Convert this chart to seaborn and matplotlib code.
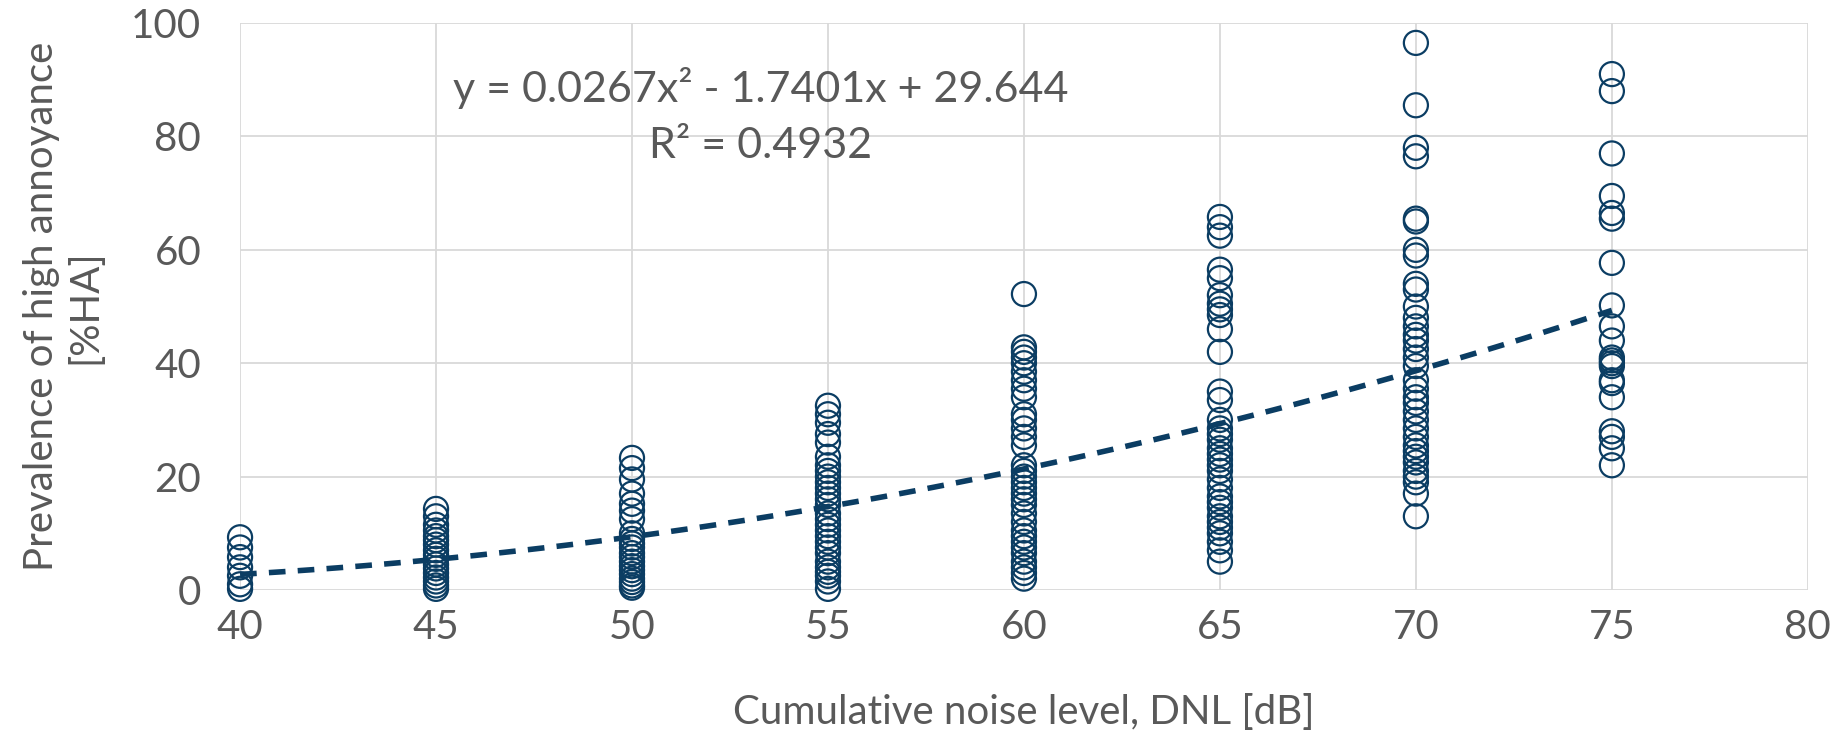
import numpy as np
import pandas as pd
import matplotlib
matplotlib.use("Agg")
import matplotlib.pyplot as plt
import seaborn as sns

# Data
ha_40 = [9.3, 7.5, 5.8, 4.0, 2.5, 1.0, 0.2]
ha_45 = [14.3, 13.0, 11.5, 10.5, 9.5, 8.8, 8.0, 7.0, 6.2, 5.5, 4.5, 3.8, 3.0, 2.2, 1.5, 0.8, 0.2]
ha_50 = [23.3, 21.5, 19.5, 17.0, 15.2, 14.0, 12.5, 10.0, 9.0, 8.2, 7.5, 6.5, 5.8, 5.0, 4.2,
         3.5, 2.8, 2.0, 1.4, 0.8, 0.4]
ha_55 = [32.5, 31.0, 29.5, 27.5, 26.0, 23.5, 22.0, 21.0, 20.0, 19.0, 18.0, 17.0, 16.0, 15.0,
         13.5, 12.5, 11.5, 10.5, 9.5, 8.5, 7.5, 6.5, 5.0, 4.0, 3.2, 2.5, 1.5, 0.2]
ha_60 = [52.2, 42.8, 42.0, 41.0, 40.0, 38.5, 37.0, 35.5, 34.0, 31.0, 30.0, 28.5, 27.0, 25.5,
         22.0, 21.0, 20.0, 19.0, 18.0, 17.0, 16.0, 15.0, 13.5, 12.0, 10.5, 9.5, 8.5, 7.5,
         6.5, 5.0, 4.0, 3.0, 2.0]
ha_65 = [65.8, 64.0, 62.5, 56.5, 55.0, 52.0, 50.5, 49.5, 48.5, 46.0, 42.0, 35.0, 33.5, 30.0,
         28.5, 27.5, 26.5, 25.0, 24.0, 23.0, 22.0, 21.0, 19.5, 18.0, 16.5, 15.5, 14.5, 13.0,
         12.0, 11.0, 10.0, 8.5, 7.0, 5.0]
ha_70 = [96.5, 85.5, 78.0, 76.5, 65.5, 65.0, 60.0, 59.0, 54.0, 53.0, 50.0, 48.0, 46.5, 45.0,
         44.0, 42.5, 41.0, 39.5, 37.0, 35.5, 34.0, 33.0, 31.5, 30.0, 28.5, 27.0, 25.5, 24.5,
         23.5, 22.5, 21.0, 20.0, 19.0, 17.0, 13.0]
ha_75 = [91.0, 88.0, 77.0, 69.5, 66.5, 65.5, 57.7, 50.2, 46.5, 44.0, 41.0, 40.5, 40.0, 39.5,
         37.0, 36.5, 34.0, 28.0, 27.0, 25.0, 22.0]
dnl_levels = [40, 45, 50, 55, 60, 65, 70, 75]
trend_coef = [0.0267, -1.7401, 29.644]
trend_range = [40, 75]
x_ticks = [40, 45, 50, 55, 60, 65, 70, 75, 80]
y_ticks = [0, 20, 40, 60, 80, 100]

cols = [ha_40, ha_45, ha_50, ha_55, ha_60, ha_65, ha_70, ha_75]
df = pd.DataFrame({
    "DNL": np.concatenate([[lv] * len(c) for lv, c in zip(dnl_levels, cols)]),
    "HA": np.concatenate(cols),
})
xs = np.linspace(trend_range[0], trend_range[1], 100)
trend = pd.DataFrame({"DNL": xs, "HA": np.polyval(trend_coef, xs)})

sns.set_theme(style="whitegrid")
plt.rcParams['font.family'] = ['Lato', 'DejaVu Sans']
navy = "#0b3d63"
grey = "#595959"
fs = 29

fig = plt.figure(figsize=(18.38, 7.44), dpi=100)
ax = fig.add_axes([0.1306, 0.207, 0.853, 0.762])

sns.lineplot(data=trend, x="DNL", y="HA", ax=ax, color=navy, lw=4, linestyle=(0, (3, 2.2)), zorder=3)
sns.scatterplot(data=df, x="DNL", y="HA", ax=ax, marker="o", s=300,
                facecolors="none", edgecolor=navy, linewidth=1.6, zorder=4, clip_on=False)

ax.set_xlim(40, 80)
ax.set_ylim(0, 100)
ax.set_xticks(x_ticks)
ax.set_yticks(y_ticks)
ax.tick_params(axis="both", labelsize=fs, colors=grey, length=0)
ax.tick_params(axis="x", pad=14)
ax.tick_params(axis="y", pad=28)
ax.grid(True, color="#d9d9d9", linewidth=1.3)
for s in ax.spines.values():
    s.set_visible(False)
ax.set_facecolor("white")

ax.set_xlabel("Cumulative noise level, DNL [dB]", fontsize=fs, color=grey, labelpad=34)
ax.set_ylabel("Prevalence of high annoyance\n[%HA]", fontsize=fs, color=grey, labelpad=20)

ax.text(0.332, 0.886, "y = 0.0267x² - 1.7401x + 29.644", transform=ax.transAxes,
        ha="center", va="center", fontsize=31, color=grey)
ax.text(0.332, 0.783, "R² = 0.4932", transform=ax.transAxes,
        ha="center", va="center", fontsize=31, color=grey)

fig.savefig("out.png", dpi=100, facecolor="white")
